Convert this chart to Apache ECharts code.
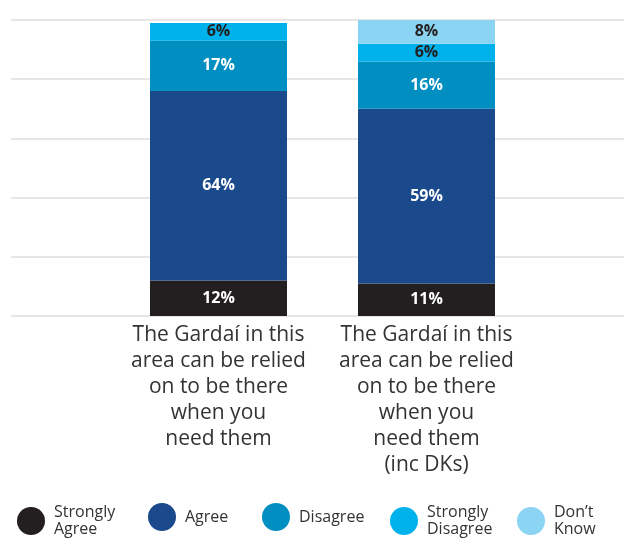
<!DOCTYPE html>
<html><head><meta charset="utf-8">
<script src="https://cdn.jsdelivr.net/npm/echarts@6/dist/echarts.min.js"></script>
<style>html,body{margin:0;padding:0;background:#fff}#c{width:624px;height:538px}</style>
</head><body><div id="c"></div>
<script>
const categories = [
  'The Gardaí in this\narea can be relied\non to be there\nwhen you\nneed them',
  'The Gardaí in this\narea can be relied\non to be there\nwhen you\nneed them\n(inc DKs)'
];
const seriesNames = ['Strongly\nAgree', 'Agree', 'Disagree', 'Strongly\nDisagree', 'Don’t\nKnow'];
const stronglyAgree = [12, 11];
const agree = [64, 59];
const disagree = [17, 16];
const stronglyDisagree = [6, 6];
const dontKnow = [null, 8];
const yTicks = [0, 20, 40, 60, 80, 100];

const colors = ['#231f20', '#1a4a8c', '#008fc0', '#00b2ec', '#8cd4f3'];
const labelColors = ['#ffffff', '#ffffff', '#ffffff', '#231f20', '#231f20'];
const values = [stronglyAgree, agree, disagree, stronglyDisagree, dontKnow];
const legendX = [17, 148, 262, 390, 517];
const FONT = '"Open Sans", sans-serif';

const chart = echarts.init(document.getElementById('c'), null, {renderer: 'canvas'});
const series = seriesNames.map((n, i) => ({
  name: n, type: 'bar', stack: 'total', xAxisIndex: 0, yAxisIndex: 0,
  barWidth: 137,
  itemStyle: {color: colors[i]},
  label: {show: true, position: 'inside', formatter: p => p.value == null ? '' : p.value + '%',
    color: labelColors[i], fontFamily: FONT, fontWeight: 'bold', fontSize: 16},
  data: values[i]
}));
chart.setOption({
  animation: false,
  backgroundColor: '#fff',
  grid: [
    {left: 114.5, right: 93.5, top: 20, bottom: 222},
    {left: 11, right: 0, top: 20, bottom: 222}
  ],
  xAxis: [
    {type: 'category', gridIndex: 0, data: categories,
     axisLine: {show: false}, axisTick: {show: false},
     axisLabel: {interval: 0, margin: 6, color: '#333333', fontFamily: FONT, fontSize: 21, lineHeight: 26, align: 'center'}},
    {type: 'value', gridIndex: 1, show: false, min: 0, max: 1}
  ],
  yAxis: [
    {type: 'value', gridIndex: 0, min: yTicks[0], max: yTicks[yTicks.length - 1], interval: 20,
     axisLabel: {show: false}, axisLine: {show: false}, axisTick: {show: false}, splitLine: {show: false}},
    {type: 'value', gridIndex: 1, min: yTicks[0], max: yTicks[yTicks.length - 1], interval: 20,
     axisLabel: {show: false}, axisLine: {show: false}, axisTick: {show: false},
     splitLine: {show: true, lineStyle: {color: '#e6e6e6', width: 2}}}
  ],
  legend: seriesNames.map((n, i) => ({
    data: [n], left: legendX[i], top: 503, padding: 0, itemWidth: 28, itemHeight: 28,
    icon: 'circle', selectedMode: false,
    textStyle: {color: '#333333', fontFamily: FONT, fontSize: 16, lineHeight: 17, padding: [2, 0, 0, 4]}
  })),
  series: series
});
</script>
</body></html>
